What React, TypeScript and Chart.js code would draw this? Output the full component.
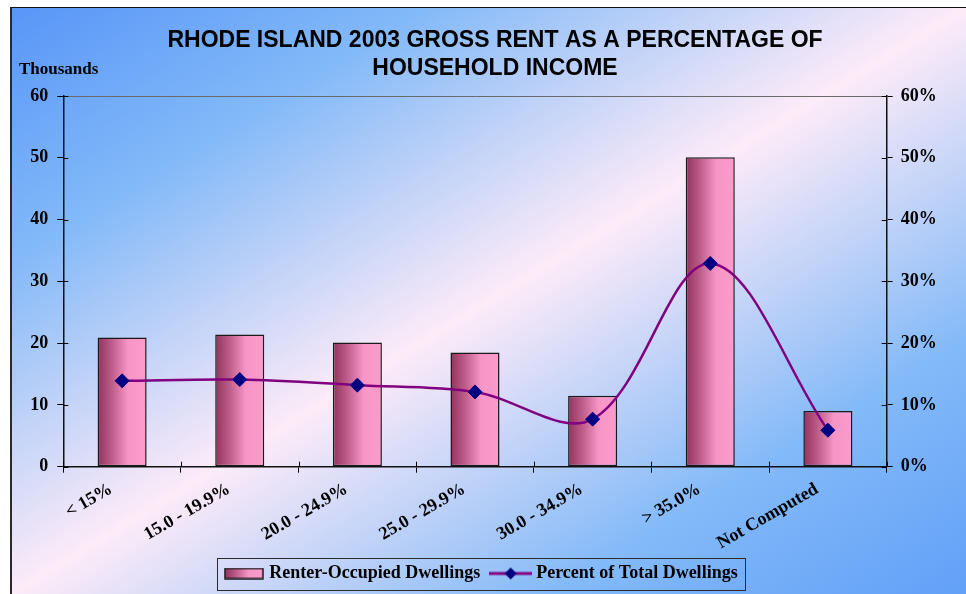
import React, { useEffect, useRef } from 'react';
import { Chart, registerables } from 'chart.js';

Chart.register(...registerables);

// ---- data ----
const categories = ['< 15%', '15.0 - 19.9%', '20.0 - 24.9%', '25.0 - 29.9%', '30.0 - 34.9%', '> 35.0%', 'Not Computed'];
const renterOccupied = [20.9, 21.4, 20.1, 18.5, 11.5, 50.1, 9.0]; // thousands
const percentOfTotal = [13.9, 14.1, 13.2, 12.1, 7.7, 32.9, 5.9]; // percent
const leftAxisMax = 60;
const rightAxisMax = 60;
const axisStep = 10;
const titleLines = ['RHODE ISLAND 2003 GROSS RENT AS A PERCENTAGE OF', 'HOUSEHOLD INCOME'];
const leftAxisTitle = 'Thousands';
const seriesNames = ['Renter-Occupied Dwellings', 'Percent of Total Dwellings'];

const SERIF = '"Liberation Serif", "Times New Roman", Times, serif';
const SANS = '"Liberation Sans", Arial, Helvetica, sans-serif';
const BAR_PCT = 0.417;

function barGradient(ctx: CanvasRenderingContext2D, x0: number, x1: number) {
  const g = ctx.createLinearGradient(x0, 0, x1, 0);
  g.addColorStop(0, '#93325C');
  g.addColorStop(0.3, '#BE5E8B');
  g.addColorStop(0.62, '#F795C6');
  g.addColorStop(1, '#FA9CCC');
  return g;
}

function makeBarSwatch() {
  const c = document.createElement('canvas');
  c.width = 40; c.height = 12;
  const x = c.getContext('2d')!;
  x.fillStyle = barGradient(x, 1, 39);
  x.fillRect(1, 1, 38, 10);
  x.strokeStyle = '#1a1a1a';
  x.lineWidth = 1.5;
  x.strokeRect(1, 1, 38, 10);
  return c;
}

function makeLineSwatch() {
  const c = document.createElement('canvas');
  c.width = 43; c.height = 16;
  const x = c.getContext('2d')!;
  x.strokeStyle = '#800080';
  x.lineWidth = 3;
  x.beginPath();
  x.moveTo(0, 8); x.lineTo(43, 8);
  x.stroke();
  x.fillStyle = '#000080';
  x.beginPath();
  x.moveTo(21.5, 2); x.lineTo(27.5, 8); x.lineTo(21.5, 14); x.lineTo(15.5, 8);
  x.closePath();
  x.fill();
  return c;
}

const decorPlugin = {
  id: 'decor',
  afterDraw(chart: any) {
    const ctx = chart.ctx as CanvasRenderingContext2D;
    const { y, y1, x } = chart.scales;
    ctx.save();
    // title
    ctx.fillStyle = '#000';
    ctx.font = `bold 23px ${SANS}`;
    ctx.textAlign = 'center';
    ctx.textBaseline = 'alphabetic';
    ctx.fillText(titleLines[0], 483, 38.7);
    ctx.fillText(titleLines[1], 483, 66.5);
    // left axis title
    ctx.font = `bold 17px ${SERIF}`;
    ctx.textAlign = 'left';
    ctx.fillText(leftAxisTitle, 7, 66);
    // inner half of crossing tick marks
    ctx.strokeStyle = '#000';
    ctx.lineWidth = 1;
    ctx.beginPath();
    for (const t of y.ticks) {
      const py = Math.round(y.getPixelForValue(t.value)) + 0.5;
      ctx.moveTo(y.right, py); ctx.lineTo(y.right + 5, py);
    }
    for (const t of y1.ticks) {
      const py = Math.round(y1.getPixelForValue(t.value)) + 0.5;
      ctx.moveTo(y1.left - 5, py); ctx.lineTo(y1.left, py);
    }
    const n = categories.length;
    const cw = (x.right - x.left) / n;
    for (let i = 0; i <= n; i++) {
      const px = Math.round(x.left + i * cw) + 0.5;
      ctx.moveTo(px, x.top - 5); ctx.lineTo(px, x.top);
    }
    ctx.stroke();
    // legend border
    const lg = chart.legend;
    if (lg && lg.legendHitBoxes && lg.legendHitBoxes.length) {
      const hb = lg.legendHitBoxes;
      const first = hb[0];
      const last = hb[hb.length - 1];
      const cy = first.top + first.height / 2;
      const left = first.left - 10;
      const right = last.left + last.width + 7.5;
      ctx.strokeStyle = '#2b2b2b';
      ctx.lineWidth = 1;
      ctx.strokeRect(Math.round(left) + 0.5, Math.round(cy - 15.5) + 0.5, Math.round(right - left), 32);
    }
    ctx.restore();
  },
};

export default function App() {
  const ref = useRef<HTMLCanvasElement | null>(null);

  useEffect(() => {
    const canvas = ref.current;
    if (!canvas) return;
    const barSwatch = makeBarSwatch();
    const lineSwatch = makeLineSwatch();
    const tickFont = { family: SERIF, weight: 'bold' as const, size: 18 };

    const chart = new Chart(canvas, {
      type: 'bar',
      data: {
        labels: categories,
        datasets: [
          {
            type: 'line' as const,
            label: seriesNames[1],
            data: percentOfTotal,
            yAxisID: 'y1',
            order: 0,
            borderColor: '#800080',
            borderWidth: 2.5,
            tension: 0.35,
            pointStyle: 'rectRot',
            pointRadius: 7,
            pointBackgroundColor: '#000080',
            pointBorderColor: '#000080',
            pointBorderWidth: 1,
            fill: false,
          } as any,
          {
            type: 'bar' as const,
            label: seriesNames[0],
            data: renterOccupied,
            yAxisID: 'y',
            order: 1,
            barPercentage: BAR_PCT,
            categoryPercentage: 1,
            borderColor: '#1a1a1a',
            borderWidth: 1.5,
            borderSkipped: false,
            backgroundColor: (c: any) => {
              const xs = c.chart.scales && c.chart.scales.x;
              if (!xs || c.dataIndex === undefined) return '#F795C6';
              const cx = xs.getPixelForValue(c.dataIndex);
              const w = ((xs.right - xs.left) / categories.length) * BAR_PCT;
              return barGradient(c.chart.ctx, cx - w / 2, cx + w / 2);
            },
          } as any,
        ],
      },
      options: {
        animation: false,
        responsive: false,
        maintainAspectRatio: false,
        devicePixelRatio: 1,
        layout: { padding: { left: 0, right: 13, top: 88, bottom: 1.5 } },
        plugins: {
          title: { display: false },
          tooltip: { enabled: false },
          legend: {
            display: true,
            position: 'bottom',
            labels: {
              usePointStyle: true,
              pointStyleWidth: 33,
              padding: 14,
              color: '#000',
              font: tickFont,
              generateLabels: () => [
                { text: seriesNames[0], pointStyle: barSwatch as any, fillStyle: 'rgba(0,0,0,0)', strokeStyle: 'rgba(0,0,0,0)', lineWidth: 0, hidden: false, datasetIndex: 1 } as any,
                { text: seriesNames[1], pointStyle: lineSwatch as any, fillStyle: 'rgba(0,0,0,0)', strokeStyle: 'rgba(0,0,0,0)', lineWidth: 0, hidden: false, datasetIndex: 0 } as any,
              ],
            },
          },
        },
        scales: {
          x: {
            offset: true,
            afterFit: (s: any) => { s.height = 83.8; },
            grid: { offset: true, drawOnChartArea: false, color: '#000', tickColor: '#000', tickLength: 6 },
            border: { display: true, color: '#111', width: 1.5 },
            ticks: { autoSkip: false, minRotation: 30, maxRotation: 30, color: '#000', font: tickFont, padding: 6, labelOffset: -11 },
          },
          y: {
            position: 'left',
            min: 0,
            max: leftAxisMax,
            afterFit: (s: any) => { s.width = 51.3; },
            grid: {
              color: (c: any) => (c.tick && c.tick.value === leftAxisMax ? '#6a6a6a' : 'rgba(0,0,0,0)'),
              tickColor: '#000',
              tickLength: 6,
            },
            border: { display: true, color: '#111', width: 1.5 },
            ticks: { stepSize: axisStep, color: '#000', font: tickFont, padding: 9 },
          },
          y1: {
            position: 'right',
            min: 0,
            max: rightAxisMax,
            afterFit: (s: any) => { s.width = 66.3; },
            grid: { drawOnChartArea: false, tickColor: '#000', tickLength: 6 },
            border: { display: true, color: '#111', width: 1.5 },
            ticks: { stepSize: axisStep, color: '#000', font: tickFont, padding: 8, callback: (v: any) => `${v}%` },
          },
        },
      },
      plugins: [decorPlugin],
    });

    return () => chart.destroy();
  }, []);

  return (
    <div
      style={{
        position: 'fixed',
        left: 10,
        top: 7,
        width: 954,
        height: 586,
        borderLeft: '2px solid #2a2a2a',
        borderTop: '1px solid #111',
        background:
          'linear-gradient(to bottom right, #5896F8 0%, #84BAF8 22%, #FDEBF8 50%, #84BAF8 78%, #62A0F8 100%)',
      }}
    >
      <canvas ref={ref} width={954} height={586} style={{ display: 'block', width: 954, height: 586 }} />
    </div>
  );
}
